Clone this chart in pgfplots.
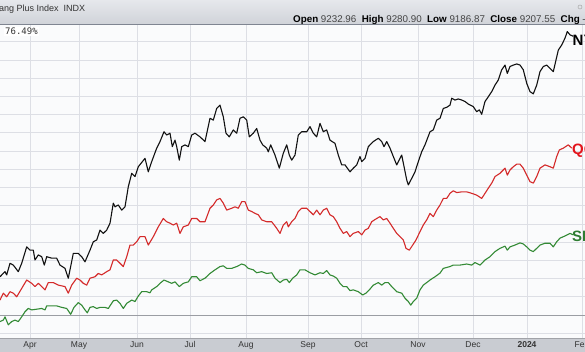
\documentclass[border=0pt]{standalone}
\usepackage{fontspec}
\setmainfont{Liberation Sans}
\newfontfamily\monofont{DejaVu Sans Mono}
\usepackage{pgfplots}
\pgfplotsset{compat=1.18}
\definecolor{hdrtop}{HTML}{E6E8EC}
\definecolor{hdrbot}{HTML}{CFD2D8}
\definecolor{hdrline}{HTML}{7F8591}
\definecolor{botband}{HTML}{C9CCD2}
\definecolor{plotbg}{HTML}{FAFBFC}
\definecolor{gridc}{HTML}{DDDFE5}
\definecolor{zeroc}{HTML}{9A9DA3}
\definecolor{labc}{HTML}{333333}
\definecolor{numc}{HTML}{444444}
\definecolor{nyc}{HTML}{111111}
\definecolor{qqc}{HTML}{D42A2A}
\definecolor{spc}{HTML}{338A35}
\definecolor{qlab}{HTML}{E3141C}
\definecolor{slab}{HTML}{2E7D32}
\begin{document}
\begin{tikzpicture}
\shade[top color=hdrtop, bottom color=hdrbot] (0,313pt) rectangle (585pt,338pt);
\fill[botband] (0,-14pt) rectangle (585pt,0pt);
\draw[botband!80!black, line width=0.6pt] (0,-0.3pt) -- (585pt,-0.3pt);
\begin{axis}[at={(0pt,0pt)}, anchor=south west, scale only axis,
  width=585pt, height=313pt,
  xmin=0, xmax=585, ymin=-6.31, ymax=79.6,
  axis background/.style={fill=plotbg},
  axis line style={draw=none},
  major tick length=0pt,
  xtick={30,79,137,190,246,308,361,418,473,527,582},
  xticklabels={Apr,May,Jun,Jul,Aug,Sep,Oct,Nov,Dec,\textbf{2024},Feb},
  ytick={-5,0,...,75}, yticklabels={},
  grid=major, major grid style={gridc, line width=0.7pt},
  extra y ticks={0}, extra y tick labels={},
  extra y tick style={grid=major, major grid style={zeroc, line width=1pt}},
  xticklabel style={anchor=base, yshift=-9.5pt, font=\fontsize{8.5}{10}\selectfont, text=labc},
  every axis plot/.append style={line width=1.1pt, line join=round}]
\addplot[nyc, mark=none] coordinates {
(0,10.5)(5,11.9)(6.7,11.0)(10,14.2)(13.3,13.7)(18.3,11.9)(21.7,14.2)(26.7,18.7)(30,17.8)(33.3,17.8)
(35,15.1)(38.3,16.5)(41.7,16.0)(44.3,13.7)(46.7,16.0)(51.7,15.6)(56.7,15.6)(60,13.7)(65,12.8)(68.3,10.1)
(73.3,16.9)(78.3,16.9)(81.7,16.0)(85,14.6)(90,17.8)(93.3,20.1)(96.7,20.6)(100,23.3)(103.3,22.4)(106.7,23.3)
(110,25.2)(113.3,30.7)(115,29.7)(118.3,30.2)(121.7,28.8)(125,29.7)(128.3,35.2)(131.7,38.9)(135,38.0)(138.3,40.7)
(145,43.0)(148.3,39.3)(151.7,42.1)(156.7,45.8)(160,47.6)(164,50.3)(166.7,49.4)(170,49.9)(172.3,46.2)(175,48.0)
(176.7,46.2)(179.3,42.5)(181.7,46.2)(185,46.7)(188.3,46.2)(191.7,49.4)(195,49.9)(200,48.9)(205,47.6)(210,54.0)
(213.3,53.5)(216.7,56.7)(220,57.6)(223.3,54.4)(226,49.9)(229.3,48.9)(233.3,50.8)(236.7,49.9)(240,54.0)(243.3,54.4)
(246.7,53.5)(249.3,48.9)(253.3,49.9)(256.7,51.2)(260,48.0)(262.7,46.7)(266.7,45.8)(268.3,44.8)(270.7,46.7)(275,43.9)
(279.3,40.3)(283.3,44.4)(286.7,46.7)(289.3,43.9)(291.7,42.5)(295,43.9)(298.3,49.4)(301.7,50.3)(306.7,50.3)(310,51.7)
(313.3,49.9)(316.7,48.9)(320,52.6)(323.3,50.3)(326.7,50.8)(330,48.0)(335,47.1)(338.3,43.9)(341.7,41.2)(345,41.2)
(350,39.3)(353.3,40.3)(356.7,41.2)(360,43.5)(361.7,42.1)(365,43.0)(368.3,46.2)(373.3,47.6)(378.3,48.5)(381.7,47.6)
(384,46.2)(386.7,47.6)(390,45.8)(393.3,43.5)(396.7,41.2)(401.7,43.9)(406.7,37.1)(408.3,35.7)(411.7,37.5)(415,39.3)
(418.3,42.1)(421.7,44.8)(425,46.7)(430,50.3)(433.3,50.8)(436.7,53.5)(440,54.0)(443.3,56.7)(446.7,57.0)(450,57.6)
(451.7,59.5)(455,59.0)(458.3,59.3)(461.7,59.0)(465,58.6)(468.3,57.9)(473.3,57.2)(476.7,55.8)(479.3,56.3)(481.7,55.1)
(485,58.6)(488.3,59.9)(491.7,61.3)(495,63.1)(498.3,64.5)(501.7,67.3)(505,68.6)(507.3,66.3)(510,68.2)(513.3,68.6)
(516.7,68.9)(520,68.6)(523.3,67.3)(526.7,63.6)(530,61.3)(533.3,60.7)(536.7,63.1)(540,66.8)(543.3,68.2)(546.7,68.6)
(550,67.7)(553.3,66.8)(556,70.0)(558.3,72.7)(561.7,74.1)(565,76.0)(567.3,77.8)(570,76.9)(573.3,76.5)
};
\addplot[qqc, mark=none] coordinates {
(0,4.1)(3.3,6.0)(6.7,5.0)(10,6.4)(13.3,6.0)(16.7,5.0)(21.7,7.3)(26.7,9.6)(31.7,8.7)(35,7.8)
(38.3,8.7)(41.7,7.8)(45,6.9)(48.3,8.9)(53.3,8.9)(58.3,8.2)(65,7.8)(68.3,6.0)(71.7,8.2)(76.7,10.1)
(80,9.6)(83.3,8.7)(86.7,8.2)(90,10.1)(95,10.5)(98.3,11.4)(101.7,11.0)(106.7,11.9)(110,12.4)(113.3,15.1)
(116.7,15.1)(120,14.2)(123.3,13.3)(126.7,16.0)(130,19.2)(133.3,19.2)(136.7,20.1)(140,21.5)(145,21.5)(148.3,19.2)
(153.3,21.5)(158.3,24.2)(163.3,26.5)(166.7,25.6)(170,25.2)(173.3,24.7)(176.7,25.2)(180,22.4)(183.3,24.2)(188.3,24.7)
(191.7,26.5)(196.7,26.5)(200,25.6)(205,25.6)(210,29.3)(213.3,30.2)(216.7,31.6)(220,32.0)(223.3,30.7)(226.7,28.8)
(231.7,29.3)(235,29.7)(238.3,29.3)(241.7,31.1)(245,31.1)(248.3,28.8)(251.7,28.4)(255,27.9)(258.3,27.5)(261.7,26.1)
(266.7,25.6)(271.7,25.6)(276.7,23.8)(280,22.4)(283.3,24.7)(286.7,25.6)(288.3,24.2)(291.7,25.6)(295,26.5)(298.3,28.4)
(301.7,29.3)(306.7,29.3)(310,28.4)(313.3,27.5)(316.7,28.8)(320,27.5)(323.3,28.8)(326.7,29.3)(330,27.5)(333.3,27.0)
(336.7,25.6)(340,23.8)(343.3,22.4)(346.7,22.9)(350,21.5)(353.3,22.4)(358.3,22.9)(361.7,22.0)(365,23.3)(368.3,23.8)
(371.7,25.6)(376.7,26.5)(380,27.0)(383.3,26.1)(386.7,26.5)(390,25.2)(393.3,23.8)(396.7,22.4)(400,21.5)(403.3,20.6)
(406,18.3)(409.3,17.8)(412.7,19.2)(416,20.6)(420,22.9)(423.3,24.7)(426.7,26.1)(430,27.9)(433.3,27.0)(436.7,28.8)
(440,30.2)(443.3,32.0)(446.7,32.0)(450,33.4)(453.3,34.1)(456.7,33.6)(461.7,33.8)(466.7,33.8)(471.7,33.4)(476.7,32.9)
(481.7,32.0)(485,33.4)(488.3,34.8)(491.7,36.2)(495,38.0)(500,38.9)(505,40.3)(507.3,38.4)(510,39.8)(513.3,40.7)
(516.7,41.4)(520,41.4)(523.3,40.3)(526.7,38.4)(530,36.6)(533.3,36.2)(536.7,38.0)(540,40.3)(545,41.2)(550,40.7)
(553.3,40.3)(556.7,43.5)(559.3,45.3)(563.3,45.8)(568.3,46.7)(571.7,45.8)
};
\addplot[spc, mark=none] coordinates {
(0,-1.8)(3.3,-1.4)(5,-0.5)(8.3,-2.7)(11.7,-1.8)(15,-1.4)(18.3,-1.8)(21.7,-0.5)(25,0.9)(28.3,1.8)
(31.7,1.4)(36.7,1.6)(41.7,1.8)(45,1.4)(46.7,2.5)(51.7,2.5)(56.7,2.5)(61.7,2.1)(66.7,1.8)(70.7,0.2)
(74,2.1)(78.3,3.4)(81.7,2.7)(85,1.4)(87.3,0.6)(90,2.1)(93.3,2.3)(96.7,1.8)(100,2.1)(105,2.1)
(108.3,1.8)(113.3,3.9)(116.7,4.1)(120,3.2)(123.3,1.8)(126.7,3.2)(131.7,4.1)(135,3.7)(138.3,5.2)(141.7,6.4)
(146.7,6.4)(150,6.1)(151.7,6.9)(156.7,7.8)(160,8.7)(164,9.6)(168.3,9.1)(171.7,8.7)(175,9.1)(179.3,7.8)
(183.3,8.7)(188.3,9.1)(191.7,10.5)(196.7,10.5)(200,9.4)(205,10.1)(210,11.4)(215,12.4)(220,13.3)(223.3,13.5)
(226.7,12.8)(231.7,12.8)(236.7,13.3)(241.7,14.0)(245,13.7)(248.3,12.8)(253.3,12.4)(256.7,11.6)(261.7,11.9)(266.7,11.4)
(271.7,11.6)(275,10.1)(280,8.9)(283.3,9.6)(286.7,9.8)(289.3,8.9)(292.7,10.1)(296.7,11.0)(300,12.4)(305,12.4)
(310,11.6)(315,11.0)(320,11.6)(323.3,11.4)(326.7,12.2)(330,11.0)(333.3,10.7)(336.7,10.1)(340,8.7)(343.3,7.8)
(346.7,7.8)(350,6.7)(353.3,6.9)(358.3,6.4)(362.7,5.5)(366,6.0)(369.3,6.9)(373.3,8.2)(378.3,8.9)(381.7,8.2)
(385,8.9)(388.3,8.9)(391.7,7.8)(396.7,6.4)(401.7,6.0)(405,4.6)(408.3,3.7)(410.7,2.7)(413.3,3.7)(416.7,4.6)
(420,6.9)(423.3,8.2)(426.7,8.9)(430,9.6)(435,10.5)(440,11.5)(443.3,12.8)(450,13.3)(453.3,13.7)(460,13.7)
(466.7,14.0)(471.7,13.7)(475,14.4)(480,13.7)(485,15.1)(490,16.0)(495,17.4)(500,18.3)(505,18.9)(507.3,17.8)
(510,18.7)(515,19.2)(520,19.8)(523.3,19.5)(526.7,18.7)(530,17.8)(533.3,17.4)(536.7,18.3)(540,19.2)(545,19.7)
(550,19.7)(553.3,18.7)(556.7,20.1)(560,21.1)(565,21.7)(570,22.4)(573.3,22.0)
};
\node[anchor=west, inner sep=0pt, font=\bfseries\fontsize{15}{15}\selectfont, text=black] at (axis cs:572.5,75.5) {NYFANG};
\node[anchor=west, inner sep=0pt, font=\bfseries\fontsize{15}{15}\selectfont, text=qlab] at (axis cs:572,45.0) {QQQ};
\node[anchor=west, inner sep=0pt, font=\bfseries\fontsize{15}{15}\selectfont, text=slab] at (axis cs:572,21.5) {SPY};
\end{axis}
\draw[hdrline, line width=1pt] (0,313.5pt) -- (585pt,313.5pt);
\node[anchor=base west, inner sep=0pt, font=\fontsize{9}{10}\selectfont, text=labc] at (-1pt,326.3pt) {ang Plus Index\ \ INDX};
\node[anchor=base west, inner sep=0pt, font=\fontsize{9.8}{10}\selectfont, text=black] at (293pt,315.6pt)
  {\textbf{Open} {\color{numc}9232.96}\ \ \textbf{High} {\color{numc}9280.90}\ \ \textbf{Low} {\color{numc}9186.87}\ \ \textbf{Close} {\color{numc}9207.55}\ \ \textbf{Chg} {\color{numc}-24.46}};
\node[anchor=base west, inner sep=1pt, fill=white, font=\monofont\fontsize{9}{10}\selectfont, text=labc] at (4pt,303pt) {76.49\%};
\draw[gray!70, line width=0.5pt] (580pt,331pt) circle (2pt);
\pgfresetboundingbox
\path[use as bounding box] (0pt,-14pt) rectangle (585pt,338pt);
\end{tikzpicture}
\end{document}
